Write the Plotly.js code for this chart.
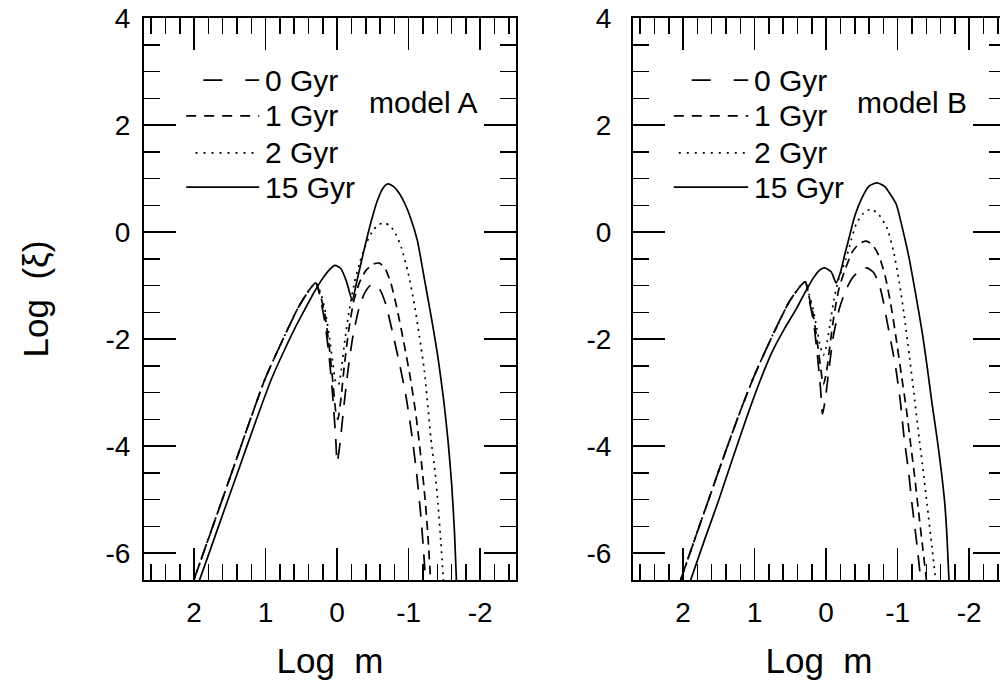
<!DOCTYPE html>
<html>
<head>
<meta charset="utf-8">
<script src="https://cdn.plot.ly/plotly-3.0.1.min.js"></script>
<style>
  html, body { margin: 0; padding: 0; overflow: hidden; background: #fff; }
  #wrap { width: 1000px; height: 690px; overflow: hidden; }
</style>
</head>
<body>
<div id="wrap"><div id="chart"></div></div>
<script>
// ---------------- data (Log m, Log xi) ----------------
const seriesNames = ["0 Gyr", "1 Gyr", "2 Gyr", "15 Gyr"];
const xTickVals = [2, 1, 0, -1, -2];
const xTickText = ["2", "1", "0", "-1", "-2"];
const yTickVals = [-6, -4, -2, 0, 2, 4];
const yTickText = ["-6", "-4", "-2", "0", "2", "4"];
const panelLabels = ["model A", "model B"];

// Model A
const A0x = [2.03, 1.85, 1.66, 1.47, 1.24, 1.01, 0.84, 0.69, 0.54, 0.40, 0.30, 0.24, 0.17, 0.11, 0.06, 0.02, 0.00, -0.04, -0.09, -0.15, -0.22, -0.30, -0.38, -0.46, -0.53, -0.60, -0.68, -0.77, -0.87, -0.96, -1.04, -1.11, -1.17, -1.21, -1.24];
const A0y = [-6.6, -5.92, -5.20, -4.48, -3.60, -2.75, -2.24, -1.81, -1.40, -1.10, -0.95, -1.20, -1.70, -2.35, -3.10, -3.85, -4.30, -3.95, -3.30, -2.60, -1.95, -1.45, -1.15, -1.00, -0.98, -1.08, -1.35, -1.85, -2.45, -3.05, -3.75, -4.50, -5.30, -6.00, -6.60];
const A1x = [2.03, 1.85, 1.66, 1.47, 1.24, 1.01, 0.84, 0.69, 0.54, 0.40, 0.30, 0.24, 0.17, 0.11, 0.06, 0.02, -0.01, -0.05, -0.10, -0.16, -0.23, -0.31, -0.40, -0.50, -0.59, -0.67, -0.75, -0.84, -0.93, -1.02, -1.10, -1.17, -1.23, -1.27, -1.31];
const A1y = [-6.6, -5.92, -5.20, -4.48, -3.60, -2.75, -2.24, -1.81, -1.40, -1.10, -0.95, -1.15, -1.55, -2.15, -2.80, -3.35, -3.50, -3.15, -2.50, -1.85, -1.30, -0.95, -0.72, -0.60, -0.58, -0.68, -0.95, -1.45, -2.05, -2.70, -3.40, -4.20, -5.00, -5.70, -6.60];
const A2x = [2.03, 1.85, 1.66, 1.47, 1.24, 1.01, 0.84, 0.69, 0.54, 0.40, 0.30, 0.24, 0.17, 0.11, 0.06, 0.02, -0.02, -0.06, -0.11, -0.17, -0.24, -0.32, -0.41, -0.50, -0.58, -0.66, -0.74, -0.82, -0.90, -0.99, -1.08, -1.15, -1.22, -1.31, -1.37, -1.41, -1.45, -1.49];
const A2y = [-6.6, -5.92, -5.20, -4.48, -3.60, -2.75, -2.24, -1.81, -1.40, -1.10, -0.95, -1.10, -1.45, -1.95, -2.45, -2.80, -2.85, -2.55, -2.00, -1.45, -0.95, -0.55, -0.20, 0.03, 0.14, 0.17, 0.12, -0.04, -0.30, -0.75, -1.35, -1.95, -2.60, -3.85, -4.50, -5.08, -5.80, -6.60];
const A15x = [1.95, 1.78, 1.58, 1.38, 1.15, 0.92, 0.75, 0.60, 0.45, 0.32, 0.20, 0.10, 0.03, -0.05, -0.13, -0.21, -0.27, -0.33, -0.40, -0.48, -0.56, -0.64, -0.71, -0.79, -0.87, -0.95, -1.03, -1.12, -1.22, -1.32, -1.41, -1.49, -1.55, -1.60, -1.64, -1.67];
const A15y = [-6.6, -5.96, -5.20, -4.45, -3.58, -2.75, -2.24, -1.82, -1.44, -1.12, -0.86, -0.69, -0.62, -0.68, -0.92, -1.27, -0.95, -0.60, -0.20, 0.22, 0.58, 0.82, 0.90, 0.85, 0.72, 0.52, 0.25, -0.15, -0.88, -1.62, -2.35, -3.15, -3.90, -4.70, -5.60, -6.60];

// Model B
const B0x = [2.06, 1.84, 1.63, 1.42, 1.21, 1.01, 0.76, 0.52, 0.35, 0.29, 0.24, 0.18, 0.13, 0.08, 0.05, 0.01, -0.04, -0.10, -0.18, -0.27, -0.37, -0.47, -0.57, -0.66, -0.74, -0.80, -0.85, -0.92, -0.98, -1.04, -1.09, -1.15, -1.20, -1.27, -1.33];
const B0y = [-6.6, -5.75, -4.95, -4.15, -3.38, -2.70, -1.96, -1.31, -0.99, -0.93, -1.25, -1.65, -2.20, -2.90, -3.40, -3.10, -2.55, -1.95, -1.45, -1.10, -0.85, -0.72, -0.67, -0.75, -0.97, -1.30, -1.66, -2.15, -2.60, -3.20, -3.85, -4.45, -5.08, -5.85, -6.60];
const B1x = [2.06, 1.84, 1.63, 1.42, 1.21, 1.01, 0.76, 0.52, 0.35, 0.29, 0.24, 0.18, 0.13, 0.08, 0.04, 0.00, -0.05, -0.11, -0.18, -0.27, -0.37, -0.46, -0.56, -0.65, -0.74, -0.83, -0.91, -0.98, -1.05, -1.12, -1.18, -1.24, -1.29, -1.35, -1.41];
const B1y = [-6.6, -5.75, -4.95, -4.15, -3.38, -2.70, -1.96, -1.31, -0.99, -0.93, -1.20, -1.55, -2.00, -2.50, -2.85, -2.65, -2.15, -1.55, -1.05, -0.68, -0.36, -0.22, -0.17, -0.24, -0.45, -0.85, -1.40, -2.00, -2.65, -3.30, -3.95, -4.60, -5.20, -5.90, -6.60];
const B2x = [2.06, 1.84, 1.63, 1.42, 1.21, 1.01, 0.76, 0.52, 0.35, 0.29, 0.24, 0.18, 0.13, 0.08, 0.04, 0.00, -0.05, -0.11, -0.18, -0.28, -0.35, -0.42, -0.52, -0.63, -0.74, -0.85, -0.94, -1.02, -1.09, -1.16, -1.23, -1.30, -1.36, -1.41, -1.48, -1.54];
const B2y = [-6.6, -5.75, -4.95, -4.15, -3.38, -2.70, -1.96, -1.31, -0.99, -0.93, -1.15, -1.45, -1.80, -2.15, -2.30, -2.15, -1.75, -1.25, -0.85, -0.49, -0.15, 0.15, 0.35, 0.43, 0.32, 0.08, -0.35, -0.92, -1.55, -2.28, -3.05, -3.85, -4.50, -5.08, -5.90, -6.60];
const B15x = [1.92, 1.70, 1.50, 1.30, 1.10, 0.93, 0.76, 0.58, 0.42, 0.30, 0.18, 0.08, 0.02, -0.07, -0.14, -0.20, -0.26, -0.32, -0.40, -0.50, -0.60, -0.71, -0.82, -0.90, -0.98, -1.07, -1.16, -1.25, -1.34, -1.41, -1.48, -1.55, -1.61, -1.66, -1.69, -1.72];
const B15y = [-6.6, -5.75, -5.00, -4.20, -3.42, -2.80, -2.25, -1.80, -1.44, -1.14, -0.86, -0.70, -0.67, -0.74, -0.95, -0.75, -0.42, -0.11, 0.30, 0.64, 0.86, 0.92, 0.85, 0.70, 0.52, 0.05, -0.49, -1.15, -1.85, -2.50, -3.20, -3.85, -4.47, -5.10, -5.72, -6.60];

const modelA = [[A0x, A0y], [A1x, A1y], [A2x, A2y], [A15x, A15y]];
const modelB = [[B0x, B0y], [B1x, B1y], [B2x, B2y], [B15x, B15y]];

// ---------------- styling ----------------
const W = 1006;
const curveDash = ["16px,11px", "9px,6px", "2px,5px", "solid"];
const keyDash = ["19px,23px", "10px,8px", "2px,6px", "solid"];
const FONT = "Liberation Sans, Arial, Helvetica, sans-serif";

const traces = [];
[modelA, modelB].forEach((model, p) => {
  model.forEach((xy, i) => {
    traces.push({
      x: xy[0], y: xy[1], type: "scatter", mode: "lines",
      name: seriesNames[i], showlegend: false,
      xaxis: p === 0 ? "x" : "x2", yaxis: p === 0 ? "y" : "y2",
      line: { color: "#000", width: 1.7, dash: curveDash[i], shape: "spline", smoothing: 0.6 },
      hoverinfo: "skip"
    });
  });
});

function xAxis(domain, which) {
  return {
    domain: domain, range: [2.7, -2.5], anchor: which === 1 ? "y" : "y2",
    tickmode: "array", tickvals: xTickVals, ticktext: xTickText,
    ticks: "inside", ticklen: 32, tickwidth: 1.5, tickcolor: "#000",
    minor: { tickmode: "linear", tick0: 0, dtick: 0.2, ticks: "inside", ticklen: 16, tickwidth: 1.5, tickcolor: "#000", showgrid: false },
    mirror: "allticks", showline: true, linewidth: 2, linecolor: "#000",
    showgrid: false, zeroline: false, fixedrange: true,
    tickfont: { family: FONT, size: 28, color: "#000" }, ticklabelstandoff: 6,
    title: { text: "Log  m", font: { family: FONT, size: 35, color: "#000" }, standoff: 22 },
    automargin: false
  };
}
function yAxis(anchor, withTitle, standoff) {
  const ax = {
    domain: [0, 1], range: [-6.5, 4], anchor: anchor,
    tickmode: "array", tickvals: yTickVals, ticktext: yTickText,
    ticks: "inside", ticklen: 32, tickwidth: 1.5, tickcolor: "#000",
    minor: { tickmode: "linear", tick0: 0, dtick: 0.5, ticks: "inside", ticklen: 16, tickwidth: 1.5, tickcolor: "#000", showgrid: false },
    mirror: "allticks", showline: true, linewidth: 2, linecolor: "#000",
    showgrid: false, zeroline: false, fixedrange: true,
    tickfont: { family: FONT, size: 28, color: "#000" }, ticklabelstandoff: standoff,
    automargin: false
  };
  if (withTitle) ax.title = { text: "Log  (ξ)", font: { family: FONT, size: 35, color: "#000" }, standoff: 46 };
  return ax;
}

// legend keys (shapes) + texts (annotations) inside each panel
const keyY = [2.84, 2.17, 1.48, 0.84];
const keyX0 = [[1.87, 2.11, 1.98, 2.11], [1.88, 2.13, 2.06, 2.13]];
const keyX1 = 1.09;
const shapes = [], annotations = [];
[0, 1].forEach(p => {
  const xr = p === 0 ? "x" : "x2", yr = p === 0 ? "y" : "y2";
  seriesNames.forEach((nm, i) => {
    shapes.push({ type: "line", xref: xr, yref: yr, x0: keyX0[p][i], x1: keyX1, y0: keyY[i], y1: keyY[i],
      line: { color: "#000", width: 1.7, dash: keyDash[i] } });
    annotations.push({ xref: xr, yref: yr, x: 1.04, y: keyY[i], text: nm, showarrow: false,
      xanchor: "left", yanchor: "middle", font: { family: FONT, size: 30, color: "#000" } });
  });
  annotations.push({ xref: xr, yref: yr, x: -1.2, y: 2.43, text: panelLabels[p], showarrow: false,
    xanchor: "center", yanchor: "middle", font: { family: FONT, size: 30, color: "#000" } });
});

const layout = {
  width: W, height: 690,
  margin: { l: 0, r: 0, t: 18, b: 110 },
  paper_bgcolor: "#fff", plot_bgcolor: "#fff",
  showlegend: false,
  xaxis: xAxis([144 / W, 516 / W], 1),
  xaxis2: xAxis([633 / W, 1005 / W], 2),
  yaxis: yAxis("x", true, 6),
  yaxis2: yAxis("x2", false, 14),
  shapes: shapes, annotations: annotations
};

Plotly.newPlot("chart", traces, layout, { staticPlot: true, displayModeBar: false });
</script>
</body>
</html>
